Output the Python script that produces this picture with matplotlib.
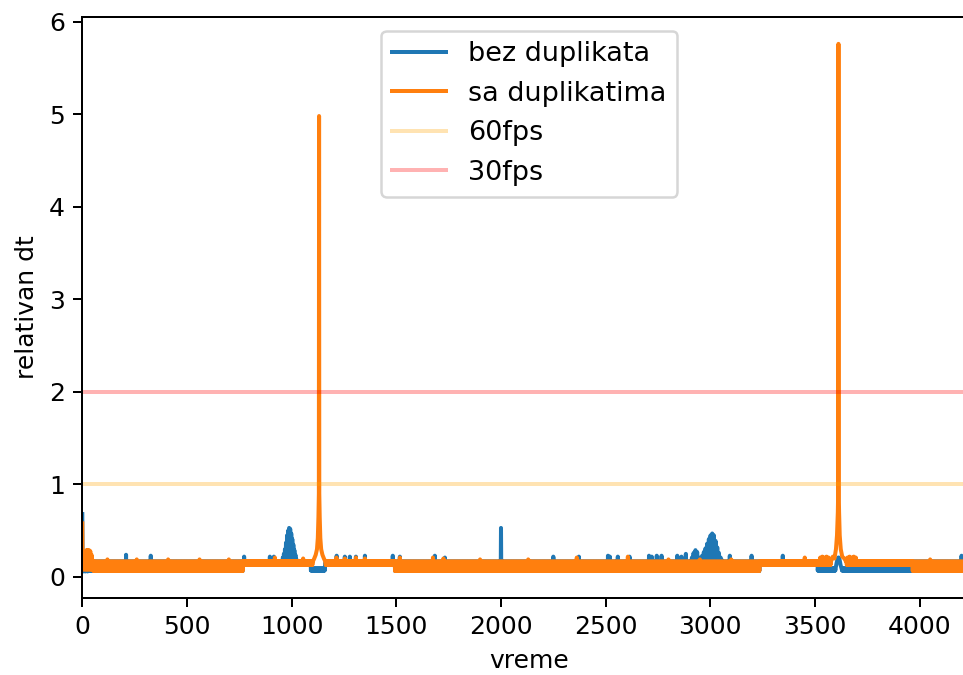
import numpy as np
import matplotlib
matplotlib.use("Agg")
import matplotlib.pyplot as plt

# ---------------------------------------------------------------------------
# Frame-time data (relative dt per frame)
# ---------------------------------------------------------------------------
FRAMES = 4269

# (first frame, end frame, repeating dt pattern within that stretch)
bez_segments = [
    (0, 767, [0.065, 0.165]),
    (767, 1092, [0.15]),
    (1092, 1160, [0.07, 0.09]),
    (1160, 1494, [0.15]),
    (1494, 3236, [0.065, 0.165]),
    (3236, 3513, [0.15]),
    (3513, 3967, [0.07, 0.09]),
    (3967, FRAMES + 1, [0.065, 0.165]),
]
sa_segments = [
    (0, 767, [0.065, 0.165]),
    (767, 1494, [0.13, 0.17]),
    (1494, 3236, [0.065, 0.165]),
    (3236, 3967, [0.13, 0.17]),
    (3967, FRAMES + 1, [0.065, 0.165]),
]

# start of the recording
bez_start_x = [0, 1, 3, 6, 10, 15, 20, 25, 30]
bez_start_y = [0.68, 0.30, 0.07, 0.06, 0.07, 0.06, 0.07, 0.06, 0.08]
sa_start_x = [0, 1, 4, 8, 11, 14, 17, 20, 23, 26, 29, 32, 35, 38, 41, 44, 47, 50, 53]
sa_start_y = [0.58, 0.30, 0.08, 0.20, 0.08, 0.27, 0.08, 0.29, 0.08, 0.29,
              0.08, 0.29, 0.08, 0.28, 0.08, 0.24, 0.08, 0.18, 0.08]

# slow stretch around frame 1000 (bez duplikata)
bez_bump1_x = [956, 958, 961, 963, 966, 968, 971, 973, 976, 978, 981, 983, 986, 988,
               991, 993, 996, 998, 1001, 1003, 1006, 1008, 1011, 1013, 1016, 1018, 1021, 1023]
bez_bump1_y = [0.15, 0.21, 0.15, 0.25, 0.15, 0.30, 0.15, 0.37, 0.15, 0.45, 0.15, 0.50, 0.15, 0.53,
               0.15, 0.52, 0.15, 0.47, 0.15, 0.41, 0.15, 0.35, 0.15, 0.29, 0.15, 0.24, 0.15, 0.19]

# slow stretch around frame 3000 (bez duplikata)
bez_bump2_x = [2905, 2908, 2912, 2915, 2920, 2924, 2929, 2933, 2937, 2941, 2945, 2949, 2953,
               2957, 2961, 2965, 2969, 2973, 2977, 2981, 2985, 2989, 2993, 2997, 3001, 3005,
               3009, 3013, 3017, 3021, 3025, 3029, 3033, 3037, 3041, 3045, 3049, 3053, 3057]
bez_bump2_y = [0.17, 0.10, 0.21, 0.10, 0.26, 0.10, 0.29, 0.10, 0.27, 0.10, 0.21, 0.10, 0.20,
               0.10, 0.23, 0.10, 0.27, 0.10, 0.31, 0.10, 0.36, 0.10, 0.41, 0.10, 0.45, 0.10,
               0.47, 0.10, 0.45, 0.10, 0.39, 0.10, 0.32, 0.10, 0.26, 0.10, 0.21, 0.10, 0.18]

# around the second hitch (bez duplikata)
bez_hitch2_x = [3598, 3603, 3607, 3611, 3614, 3618, 3622, 3627]
bez_hitch2_y = [0.09, 0.15, 0.19, 0.21, 0.21, 0.18, 0.13, 0.09]

# the two hitches (sa duplikatima)
sa_peak1_x = [1100, 1108, 1115, 1121, 1125, 1128, 1130, 1131, 1132, 1134, 1137, 1141, 1147, 1154, 1162]
sa_peak1_y = [0.16, 0.20, 0.24, 0.30, 0.42, 0.65, 0.90, 4.98, 0.90, 0.65, 0.42, 0.30, 0.24, 0.20, 0.16]
sa_peak2_x = [3575, 3585, 3593, 3600, 3605, 3609, 3611, 3612, 3613, 3615, 3618, 3623, 3630, 3640, 3650]
sa_peak2_y = [0.16, 0.22, 0.20, 0.30, 0.45, 0.70, 0.95, 5.76, 0.95, 0.70, 0.45, 0.30, 0.22, 0.20, 0.16]

# isolated single-frame spikes
bez_spike_x = [209, 327, 773, 896, 915, 1215, 1254, 1278, 1307, 1350, 1483, 1517, 1684, 1732,
               2000, 2250, 2372, 2511, 2520, 2558, 2614, 2707, 2720, 2744, 2767, 2842, 2862,
               2883, 3093, 3197, 3346, 4200]
bez_spike_y = [0.24, 0.23, 0.22, 0.22, 0.22, 0.23, 0.22, 0.22, 0.22, 0.23, 0.23, 0.22, 0.23, 0.21,
               0.53, 0.22, 0.22, 0.23, 0.22, 0.22, 0.22, 0.23, 0.22, 0.23, 0.23, 0.23, 0.22,
               0.25, 0.23, 0.23, 0.23, 0.23]
sa_spike_x = [120, 260, 410, 560, 700, 920, 1055, 1214, 1254, 1307, 1350, 1517, 1675, 1725,
              1900, 2130, 2362, 2606, 2800, 2950, 3100, 3451,
              3525, 3535, 3545, 3555, 3565, 3655, 3665, 3675, 3685, 3695, 4050]
sa_spike_y = [0.19, 0.19, 0.19, 0.19, 0.19, 0.21, 0.20, 0.21, 0.20, 0.21, 0.20, 0.21, 0.21, 0.20,
              0.19, 0.19, 0.21, 0.22, 0.19, 0.19, 0.19, 0.21,
              0.21, 0.22, 0.21, 0.22, 0.21, 0.21, 0.22, 0.21, 0.22, 0.21, 0.19]

FPS60 = 1.0
FPS30 = 2.0


def frame_series(segments, pieces):
    """Concatenate the base stretches, then splice in the listed pieces."""
    x = np.concatenate([np.arange(a, b) for a, b, _ in segments]).astype(float)
    y = np.concatenate([np.resize(np.asarray(p, float), b - a) for a, b, p in segments])
    for px, py in pieces:
        px = np.asarray(px, float)
        py = np.asarray(py, float)
        keep = (x < px.min()) | (x > px.max())
        x = np.concatenate([x[keep], px])
        y = np.concatenate([y[keep], py])
        order = np.argsort(x, kind="stable")
        x, y = x[order], y[order]
    return x, y


bez_pieces = [(bez_start_x, bez_start_y), (bez_bump1_x, bez_bump1_y),
              (bez_bump2_x, bez_bump2_y), (bez_hitch2_x, bez_hitch2_y)]
bez_pieces += [([sx], [sy]) for sx, sy in zip(bez_spike_x, bez_spike_y)]
sa_pieces = [(sa_start_x, sa_start_y), (sa_peak1_x, sa_peak1_y), (sa_peak2_x, sa_peak2_y)]
sa_pieces += [([sx], [sy]) for sx, sy in zip(sa_spike_x, sa_spike_y)]

bez_x, bez_y = frame_series(bez_segments, bez_pieces)
sa_x, sa_y = frame_series(sa_segments, sa_pieces)

# ---------------------------------------------------------------------------
# Figure
# ---------------------------------------------------------------------------
DPI = 180
fig = plt.figure(figsize=(964 / DPI, 675 / DPI), dpi=DPI)
# the plot area runs slightly past the right edge of the saved image
ax = fig.add_axes([82.3 / 964, 77 / 675, (976.0 - 82.3) / 964, 581 / 675])

ax.plot(bez_x, bez_y, color="#1f77b4", lw=1.6, label="bez duplikata")
ax.plot(sa_x, sa_y, color="#ff7f0e", lw=1.6, label="sa duplikatima")
ax.axhline(FPS60, color="orange", alpha=0.3, lw=1.6, label="60fps")
ax.axhline(FPS30, color="red", alpha=0.3, lw=1.6, label="30fps")

ax.set_xlim(0, FRAMES)
ax.set_ylim(-0.227, 6.05)
ax.set_xticks([0, 500, 1000, 1500, 2000, 2500, 3000, 3500, 4000])
ax.set_yticks([0, 1, 2, 3, 4, 5, 6])
ax.set_xlabel("vreme")
ax.set_ylabel("relativan dt")
ax.legend(loc="upper center", fontsize=10.8)

fig.savefig("out.png", dpi=DPI)
